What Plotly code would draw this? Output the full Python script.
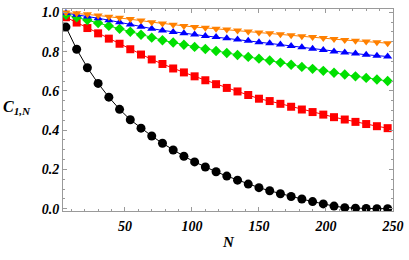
import plotly.graph_objects as go

N = [6, 14, 22, 30, 38, 46, 54, 62, 70, 78, 86, 94, 102, 110, 118, 126,
     134, 142, 150, 158, 166, 174, 182, 190, 198, 206, 214, 222, 230, 238, 246]

black = [0.925, 0.812, 0.718, 0.638, 0.568, 0.506, 0.453, 0.410, 0.370, 0.333,
         0.299, 0.267, 0.238, 0.212, 0.188, 0.166, 0.145, 0.125, 0.107, 0.091,
         0.076, 0.062, 0.049, 0.036, 0.024, 0.013, 0.005, 0.002, 0.001, 0.0, 0.0]
red = [0.975, 0.948, 0.920, 0.893, 0.866, 0.840, 0.812, 0.785, 0.760, 0.737,
       0.714, 0.694, 0.674, 0.654, 0.634, 0.615, 0.597, 0.579, 0.560, 0.548,
       0.534, 0.519, 0.505, 0.492, 0.479, 0.466, 0.454, 0.442, 0.431, 0.420, 0.410]
green = [0.988, 0.975, 0.961, 0.946, 0.931, 0.916, 0.901, 0.886, 0.871, 0.858,
         0.846, 0.835, 0.824, 0.813, 0.803, 0.793, 0.783, 0.773, 0.764, 0.755,
         0.744, 0.733, 0.722, 0.712, 0.702, 0.692, 0.683, 0.674, 0.666, 0.658, 0.650]
blue = [0.996, 0.988, 0.979, 0.970, 0.960, 0.949, 0.938, 0.926, 0.917, 0.908,
        0.900, 0.894, 0.887, 0.880, 0.874, 0.868, 0.862, 0.855, 0.848, 0.843,
        0.836, 0.829, 0.822, 0.815, 0.808, 0.801, 0.795, 0.790, 0.784, 0.779, 0.775]
orange = [0.999, 0.995, 0.990, 0.984, 0.978, 0.972, 0.966, 0.958, 0.950, 0.943,
          0.937, 0.931, 0.925, 0.921, 0.916, 0.912, 0.907, 0.902, 0.897, 0.893,
          0.888, 0.883, 0.878, 0.874, 0.869, 0.864, 0.859, 0.855, 0.851, 0.847, 0.843]

series = [
    (black, "#000000", "circle", 9),
    (red, "#FF0000", "square", 8),
    (green, "#00E000", "diamond", 8),
    (blue, "#0000FF", "triangle-up", 8),
    (orange, "#FF8000", "triangle-down", 8),
]

fig = go.Figure()
for vals, col, sym, sz in series:
    fig.add_trace(go.Scatter(
        x=N, y=vals, mode="lines+markers",
        line=dict(color=col, width=1),
        marker=dict(symbol=sym, size=sz, color=col, line=dict(width=0)),
        showlegend=False))

tfont = dict(family="Liberation Serif", size=14, color="black", weight="bold", style="italic")
axcol = "#9a9a9a"
fig.update_xaxes(range=[3.8, 250], tick0=0, dtick=50, showgrid=False, zeroline=False,
                 showline=True, linecolor=axcol, linewidth=1, mirror="allticks",
                 ticks="inside", ticklen=4, tickcolor=axcol, tickfont=tfont,
                 ticklabelstandoff=2,
                 minor=dict(ticks="inside", ticklen=2, dtick=10, tick0=0, tickcolor=axcol, showgrid=False))
fig.update_yaxes(range=[-0.012, 1.017], tick0=0, dtick=0.2, tickformat=".1f",
                 showgrid=False, zeroline=False,
                 showline=True, linecolor=axcol, linewidth=1, mirror="allticks",
                 ticks="inside", ticklen=4, tickcolor=axcol, tickfont=tfont,
                 ticklabelstandoff=0,
                 minor=dict(ticks="inside", ticklen=2, dtick=0.05, tick0=0, tickcolor=axcol, showgrid=False))

fig.add_annotation(xref="paper", yref="paper", x=-0.187, y=0.51, xanchor="left", yanchor="middle",
                   text="<b><i>C</i></b><sub><b><i>1,N</i></b></sub>", showarrow=False,
                   font=dict(family="Liberation Serif", size=16, color="black"))
fig.add_annotation(xref="paper", yref="paper", x=0.5, y=-0.152, xanchor="center", yanchor="middle",
                   text="<b><i>N</i></b>", showarrow=False,
                   font=dict(family="Liberation Serif", size=15, color="black"))

fig.update_layout(width=409, height=260, margin=dict(l=63, r=13, t=5, b=49),
                  plot_bgcolor="white", paper_bgcolor="white")
fig.write_html("out.html", config={"displayModeBar": False},
               post_script="document.body.style.margin='0';document.body.style.overflow='hidden';")
